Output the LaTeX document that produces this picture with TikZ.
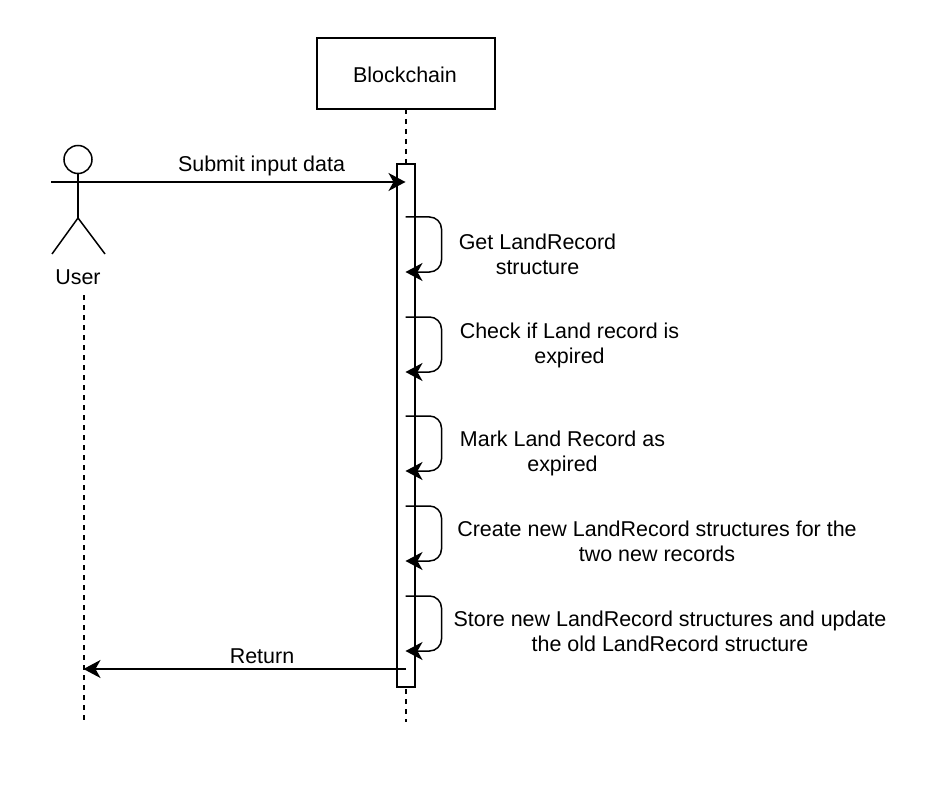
\documentclass[tikz,border=0pt]{standalone}
\usepackage{fontspec}
\setmainfont{Liberation Sans}
\usetikzlibrary{arrows.meta,calc}
\tikzset{
  line/.style={draw=black,line width=1.5pt},
  msg/.style={line,-{Stealth[length=17pt,width=18pt,inset=5pt]}},
  selfmsg/.style={msg,rounded corners=12pt},
  life/.style={line,dash pattern=on 5pt off 5pt},
  lbl/.style={font=\fontsize{21.45}{25}\selectfont,align=center,inner sep=0pt,text=black},
  box/.style={draw=black,line width=2pt,fill=white,inner sep=0pt,outer sep=0pt,anchor=north west}
}
\begin{document}
\begin{tikzpicture}[x=1pt,y=-1pt]
\useasboundingbox (0,0) rectangle (941,802);
% lifelines
\coordinate (ubot) at (84,722);
\coordinate (utop) at (84,295);
\coordinate (bbot) at (406,722);
\node[box,minimum width=178pt,minimum height=71pt] (chain) at (317,38) {};
\node[lbl] (chainlbl) at (405,75) {Blockchain};
\draw[life] (utop) -- (ubot);
\draw[life] (chain.south -| bbot) -- (bbot);
\node[box,minimum width=18pt,minimum height=523pt] (act) at (397,164) {};
% actor
\node[line,circle,minimum size=28pt,inner sep=0pt] (head) at (78,159.5) {};
\coordinate (armL) at (51,182);
\coordinate (armR) at (105,182);
\coordinate (hip) at (78,218);
\coordinate (legL) at (52,254);
\coordinate (legR) at (105,254);
\draw[line] (head.south) -- (hip);
\draw[line] (armL) -- (armR);
\draw[line] (legL) -- (hip) -- (legR);
\node[lbl] (user) at (78,277.5) {User};
% messages
\coordinate (submitEnd) at (405.5,182);
\draw[msg] (armR) -- (submitEnd);
\node[lbl] (submit) at (261.5,166) {Submit input data};
\coordinate (retStart) at (406,669);
\coordinate (retEnd) at (83.5,669);
\draw[msg] (retStart) -- (retEnd);
\node[lbl] (ret) at (262,656.5) {Return};
% self messages
\foreach \n/\t/\b in {a/217/272,b/317/372,c/416/471,d/506/561,e/596/651}{
  \coordinate (\n s) at (405.5,\t);
  \coordinate (\n e) at (405.5,\b);
  \draw[selfmsg] (\n s) -- (441.5,\t) -- (441.5,\b) -- (\n e);
}
\node[lbl] (la) at (537.5,254.5) {Get LandRecord\\structure};
\node[lbl] (lb) at (569.5,345) {Check if Land record is\\expired};
\node[lbl] (lc) at (562.5,453.5) {Mark Land Record as\\expired};
\node[lbl] (ld) at (657,541.5) {Create new LandRecord structures for the\\two new records};
\node[lbl] (le) at (670,631.5) {Store new LandRecord structures and update\\the old LandRecord structure};
\end{tikzpicture}
\end{document}
